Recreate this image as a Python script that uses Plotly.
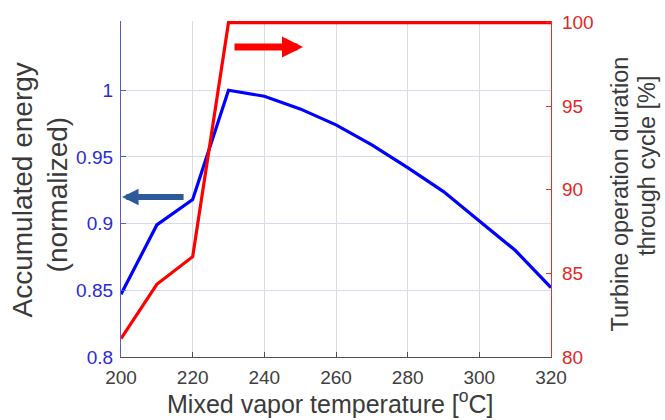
import plotly.graph_objects as go

# Data
temperature = [200, 210, 220, 230, 240, 250, 260, 270, 280, 290, 300, 310, 320]
energy_norm = [0.847, 0.899, 0.918, 1.000, 0.9955, 0.986, 0.974, 0.959, 0.942, 0.924, 0.902, 0.880, 0.852]
duration_pct = [81.1, 84.35, 86.0, 100, 100, 100, 100, 100, 100, 100, 100, 100, 100]

x_ticks = [200, 220, 240, 260, 280, 300, 320]
left_ticks = [0.8, 0.85, 0.9, 0.95, 1.0]
left_tick_text = ["0.8", "0.85", "0.9", "0.95", "1"]
right_ticks = [80, 85, 90, 95, 100]

FONT = "Liberation Sans, Arial, sans-serif"
BLUE = "#0000FF"
RED = "#FF0000"
TITLE_C = "#3a3a3a"

W, H = 665, 420
L, R, T, B = 121, 114, 17, 63
PW, PH = W - L - R, H - T - B


def px(xp):
    return (xp - L) / PW


def py(yp):
    return (H - B - yp) / PH


fig = go.Figure()
fig.add_trace(go.Scatter(x=temperature, y=energy_norm, mode="lines",
                         line=dict(color=BLUE, width=3.2), yaxis="y", showlegend=False,
                         hoverinfo="skip"))
fig.add_trace(go.Scatter(x=temperature, y=duration_pct, mode="lines",
                         line=dict(color=RED, width=3.2), yaxis="y2", showlegend=False,
                         hoverinfo="skip"))

fig.update_layout(
    width=W, height=H,
    margin=dict(l=L, r=R, t=T, b=B),
    paper_bgcolor="white", plot_bgcolor="white",
    font=dict(family=FONT, size=19, color="#404040"),
    xaxis=dict(range=[200, 320], tickvals=x_ticks, ticks="inside", ticklen=5,
               tickcolor="#505050", showline=True, linecolor="#505050", linewidth=1,
               showgrid=True, gridcolor="#dcdcdc", gridwidth=1, zeroline=False,
               ticklabelstandoff=3,
               tickfont=dict(size=19, color="#404040")),
    yaxis=dict(range=[0.8, 1.0519], tickvals=left_ticks, ticktext=left_tick_text,
               ticks="inside", ticklen=5, tickcolor="#5a5ac8",
               showline=True, linecolor="#5a5ac8", linewidth=1.2,
               showgrid=True, gridcolor="#d8d8f0", gridwidth=1, zeroline=False,
               ticklabelstandoff=3,
               tickfont=dict(size=19, color="#2a2ad8")),
    yaxis2=dict(range=[80, 100.1], tickvals=right_ticks, overlaying="y", side="right",
                ticks="inside", ticklen=5, tickcolor="#e83030",
                showline=True, linecolor="#e83030", linewidth=1.2,
                showgrid=False, zeroline=False,
                ticklabelstandoff=6,
                tickfont=dict(size=19, color="#e02828")),
)

# Axis titles as annotations
fig.add_annotation(text="Mixed vapor temperature [<sup>o</sup>C]", xref="paper", yref="paper",
                   x=px(330), y=py(420), xanchor="center", yanchor="bottom", showarrow=False,
                   borderpad=0,
                   font=dict(size=25, color=TITLE_C, family=FONT))
fig.add_annotation(text="Accumulated energy", xref="paper", yref="paper",
                   x=px(22), y=py(188.5), xanchor="center", yanchor="middle", showarrow=False,
                   textangle=-90, font=dict(size=28, color=TITLE_C, family=FONT))
fig.add_annotation(text="(normalized)", xref="paper", yref="paper",
                   x=px(57), y=py(192.5), xanchor="center", yanchor="middle", showarrow=False,
                   textangle=-90, font=dict(size=28, color=TITLE_C, family=FONT))
fig.add_annotation(text="Turbine operation duration", xref="paper", yref="paper",
                   x=px(620), y=py(192.5), xanchor="center", yanchor="middle", showarrow=False,
                   textangle=-90, font=dict(size=23.5, color=TITLE_C, family=FONT))
fig.add_annotation(text="through cycle [%]", xref="paper", yref="paper",
                   x=px(647), y=py(163.5), xanchor="center", yanchor="middle", showarrow=False,
                   textangle=-90, font=dict(size=23.5, color=TITLE_C, family=FONT))

# Direction arrows
fig.add_annotation(x=200.3, y=0.92, xref="x", yref="y", ax=63, ay=0, axref="pixel", ayref="pixel",
                   text="", showarrow=True, arrowhead=2, arrowsize=0.55, arrowwidth=6,
                   arrowcolor="#2f5a9a")
fig.add_annotation(x=250.8, y=98.55, xref="x", yref="y2", ax=-70, ay=0, axref="pixel", ayref="pixel",
                   text="", showarrow=True, arrowhead=2, arrowsize=0.6, arrowwidth=7,
                   arrowcolor=RED)

fig.write_html("out.html", config={"displayModeBar": False},
               post_script="document.body.style.margin='0';document.body.style.padding='0';")
